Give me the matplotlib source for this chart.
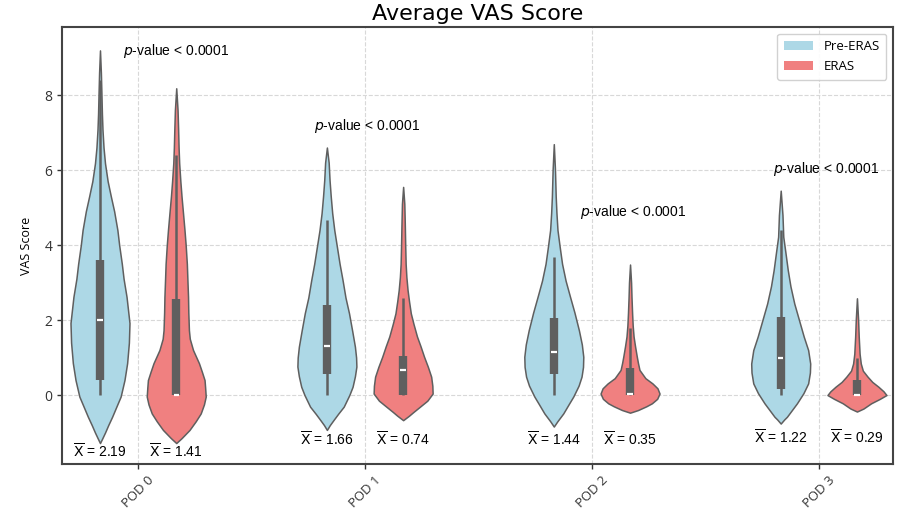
import numpy as np
import matplotlib
matplotlib.use("Agg")
import matplotlib.pyplot as plt
from matplotlib.patches import Patch

# categories / groups
days = ["POD 0", "POD 1", "POD 2", "POD 3"]
groups = ["Pre-ERAS", "ERAS"]
means = {"Pre-ERAS": [2.19, 1.66, 1.44, 1.22],
         "ERAS": [1.41, 0.74, 0.35, 0.29]}

# violin outlines: score levels and relative density (max = 1)
pre_y = [
    [-1.28, -1.15, -1.0, -0.8, -0.58, -0.3, -0.04, 0.4, 0.85, 1.4, 1.92, 2.62, 3.1, 3.5, 4.0, 4.4, 4.9, 5.29, 5.7, 6.18, 6.6, 7.07, 7.5, 8.0, 8.6, 9.19],
    [-0.93, -0.8, -0.67, -0.5, -0.31, 0.0, 0.22, 0.5, 0.76, 1.0, 1.29, 1.7, 2.18, 2.6, 3.07, 3.5, 3.95, 4.4, 4.85, 5.3, 5.73, 6.2, 6.6],
    [-0.84, -0.7, -0.49, -0.25, -0.04, 0.25, 0.49, 0.75, 1.02, 1.35, 1.73, 2.2, 2.62, 3.05, 3.5, 3.95, 4.4, 4.85, 5.29, 6.0, 6.69],
    [-0.76, -0.65, -0.58, -0.4, -0.22, 0.05, 0.31, 0.6, 0.84, 1.2, 1.56, 2.0, 2.44, 2.9, 3.33, 3.8, 4.22, 4.8, 5.45],
]
pre_d = [
    [0.0, 0.08, 0.17, 0.28, 0.41, 0.56, 0.70, 0.83, 0.92, 0.98, 1.0, 0.90, 0.80, 0.74, 0.65, 0.59, 0.48, 0.37, 0.26, 0.17, 0.12, 0.085, 0.065, 0.05, 0.03, 0.0],
    [0.0, 0.1, 0.22, 0.38, 0.57, 0.76, 0.87, 0.95, 1.0, 0.99, 0.95, 0.86, 0.75, 0.63, 0.53, 0.43, 0.34, 0.25, 0.18, 0.13, 0.09, 0.06, 0.0],
    [0.0, 0.12, 0.32, 0.50, 0.66, 0.84, 0.94, 0.99, 1.0, 0.95, 0.85, 0.70, 0.55, 0.40, 0.28, 0.20, 0.125, 0.09, 0.065, 0.04, 0.0],
    [0.0, 0.12, 0.21, 0.38, 0.55, 0.77, 0.93, 0.99, 1.0, 0.93, 0.78, 0.62, 0.46, 0.33, 0.24, 0.16, 0.087, 0.06, 0.0],
]
eras_y = [
    [-1.28, -1.15, -0.93, -0.7, -0.49, -0.25, -0.04, 0.2, 0.4, 0.62, 0.85, 1.2, 1.5, 1.73, 2.2, 2.62, 3.05, 3.5, 4.0, 4.4, 4.85, 5.29, 5.7, 6.18, 6.6, 7.07, 7.6, 8.18],
    [-0.67, -0.55, -0.45, -0.31, -0.15, 0.04, 0.25, 0.49, 0.75, 1.02, 1.3, 1.56, 1.9, 2.18, 2.5, 2.8, 3.15, 3.5, 4.0, 4.6, 5.1, 5.55],
    [-0.47, -0.4, -0.3, -0.22, -0.1, 0.04, 0.18, 0.31, 0.45, 0.67, 0.85, 1.02, 1.3, 1.56, 1.85, 2.18, 2.6, 3.0, 3.48],
    [-0.44, -0.36, -0.22, -0.1, 0.0, 0.1, 0.22, 0.35, 0.49, 0.65, 0.84, 1.1, 1.56, 2.0, 2.58],
]
eras_d = [
    [0.0, 0.18, 0.45, 0.66, 0.83, 0.94, 1.0, 0.98, 0.96, 0.87, 0.77, 0.57, 0.46, 0.43, 0.41, 0.40, 0.38, 0.36, 0.32, 0.28, 0.23, 0.18, 0.14, 0.10, 0.08, 0.065, 0.045, 0.0],
    [0.0, 0.2, 0.35, 0.57, 0.82, 1.0, 0.99, 0.95, 0.84, 0.71, 0.59, 0.47, 0.35, 0.26, 0.2, 0.15, 0.11, 0.085, 0.07, 0.055, 0.04, 0.0],
    [0.0, 0.27, 0.55, 0.74, 0.92, 1.0, 0.93, 0.76, 0.52, 0.32, 0.27, 0.23, 0.17, 0.12, 0.09, 0.07, 0.05, 0.035, 0.0],
    [0.0, 0.22, 0.48, 0.78, 1.0, 0.9, 0.73, 0.52, 0.36, 0.2, 0.13, 0.09, 0.06, 0.04, 0.0],
]

# box stats: whisker low, q1, median, q3, whisker high
pre_box = [[0.0, 0.4, 2.0, 3.6, 8.4],
           [0.0, 0.56, 1.31, 2.4, 4.67],
           [0.0, 0.56, 1.16, 2.05, 3.69],
           [0.0, 0.15, 0.98, 2.09, 4.4]]
eras_box = [[0.0, 0.0, 0.0, 2.56, 6.4],
            [0.0, 0.0, 0.67, 1.04, 2.6],
            [0.0, 0.0, 0.04, 0.71, 1.78],
            [0.0, 0.0, 0.0, 0.4, 1.0]]

pvals = ["< 0.0001", "< 0.0001", "< 0.0001", "< 0.0001"]

colors = {"Pre-ERAS": "#add8e6", "ERAS": "#f08080"}
edge = "#5f5f5f"

fig = plt.figure(figsize=(9, 5.22), dpi=100)
ax = fig.add_axes([0.069, 0.111, 0.923, 0.837])

offset = 0.168
half_w = 0.13

profiles = {"Pre-ERAS": (pre_y, pre_d, pre_box), "ERAS": (eras_y, eras_d, eras_box)}
for gi, g in enumerate(groups):
    ys, ds, boxes = profiles[g]
    for i in range(len(days)):
        xc = i + (-offset if gi == 0 else offset)
        y = np.array(ys[i])
        d = np.array(ds[i]) * half_w
        ax.fill_betweenx(y, xc - d, xc + d, facecolor=colors[g],
                         edgecolor=edge, linewidth=1.1, zorder=2)
        lo, q1, med, q3, hi = boxes[i]
        ax.plot([xc, xc], [lo, hi], color=edge, lw=1.8, zorder=3,
                solid_capstyle="butt")
        ax.plot([xc, xc], [q1, q3], color=edge, lw=6, zorder=3,
                solid_capstyle="butt")
        ax.plot([xc - 0.012, xc + 0.012], [med, med], color="white", lw=1.6,
                zorder=4, solid_capstyle="butt")

# mean labels and p-values
mean_y = [-1.49, -1.17, -1.18, -1.12]
for i in range(len(days)):
    for gi, g in enumerate(groups):
        xc = i + (-offset if gi == 0 else offset)
        ax.text(xc, mean_y[i], r"$\overline{\mathrm{X}}$" + " = %.2f" % means[g][i],
                ha="center", va="center", fontsize=10, family="Liberation Sans")

p_pos = [(0.167, 9.17), (1.01, 7.17), (2.18, 4.88), (3.03, 6.03)]
for i, (px, py) in enumerate(p_pos):
    ax.text(px, py, r"$p$-value " + pvals[i], ha="center", va="center",
            fontsize=10, family="Liberation Sans")

ax.set_xlim(-0.335, 3.326)
ax.set_ylim(-1.84, 9.81)
ax.set_xticks(range(len(days)))
ax.set_xticklabels(days, rotation=45, fontsize=9.5, family="Open Sans")
ax.set_yticks([0, 2, 4, 6, 8])
ax.set_yticklabels(["0", "2", "4", "6", "8"], fontsize=10, family="Open Sans")
ax.set_ylabel("VAS Score", fontsize=9, family="Open Sans", labelpad=8)
ax.set_title("Average VAS Score", fontsize=16, pad=5)
ax.grid(True, linestyle="--", color="#d8d8d8", linewidth=0.8, zorder=0)
ax.set_axisbelow(True)
for s in ax.spines.values():
    s.set_color("#444444")
    s.set_linewidth(1.5)
ax.tick_params(colors="#333333", width=1.0)

handles = [Patch(facecolor=colors[g], edgecolor="none", label=g) for g in groups]
ax.legend(handles=handles, loc="upper right",
          prop={"family": "Open Sans", "size": 9.5}, framealpha=0.9,
          borderpad=0.5, handlelength=2.2)

fig.savefig("out.png", dpi=100)
